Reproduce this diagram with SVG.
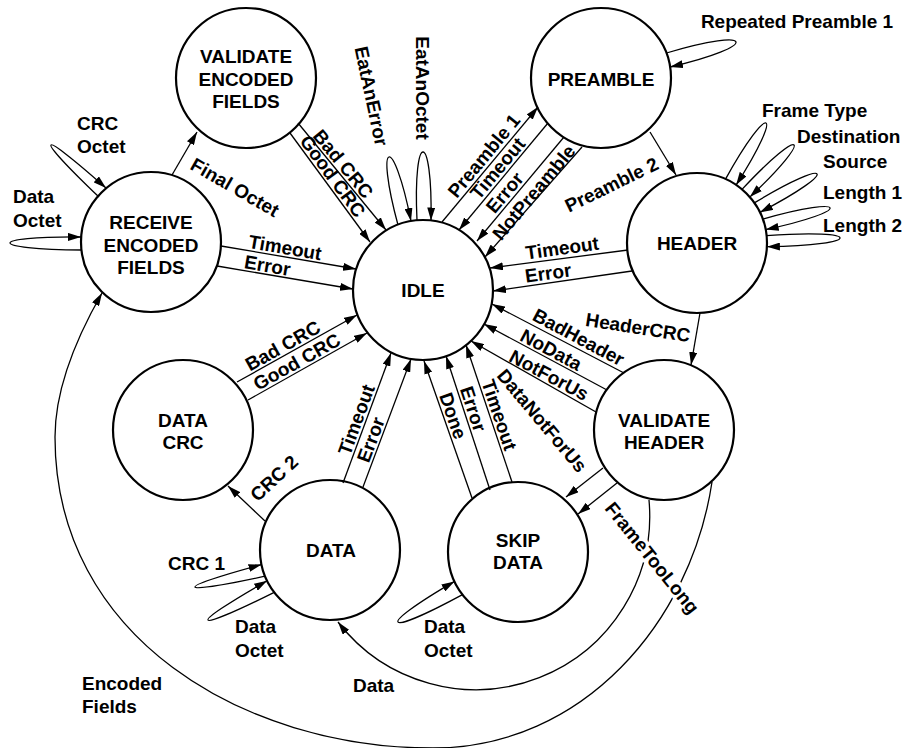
<svg xmlns="http://www.w3.org/2000/svg" width="906" height="748" viewBox="0 0 906 748">
  <defs>
    <marker id="ah" viewBox="0 0 13 8" refX="13" refY="4" markerWidth="13" markerHeight="8" orient="auto" markerUnits="userSpaceOnUse">
      <path d="M0,0 L13,4 L0,8 z" fill="#000"/>
    </marker>
    <style>
      text { font-family: "Liberation Sans", Arial, sans-serif; font-weight: bold; font-size: 19px; fill: #000; }
      .node circle { fill: #fff; stroke: #000; stroke-width: 2.2; }
      .node text, .lbl { text-anchor: middle; }
      .edge { fill: none; stroke: #000; stroke-width: 1.3; marker-end: url(#ah); }
      .halo { stroke: #fff; stroke-width: 7; stroke-linejoin: round; paint-order: stroke; }
    </style>
  </defs>
  <rect width="906" height="748" fill="#fff"/>

  <!-- states -->
  <g id="validate-encoded-fields" class="node">
    <circle cx="246" cy="78" r="70"/>
    <text x="246" y="63">VALIDATE</text>
    <text x="246" y="86">ENCODED</text>
    <text x="246" y="108">FIELDS</text>
  </g>
  <g id="preamble" class="node">
    <circle cx="601" cy="78" r="70"/>
    <text x="601" y="86">PREAMBLE</text>
  </g>
  <g id="receive-encoded-fields" class="node">
    <circle cx="151" cy="242" r="70"/>
    <text x="151" y="229">RECEIVE</text>
    <text x="151" y="252">ENCODED</text>
    <text x="151" y="274">FIELDS</text>
  </g>
  <g id="idle" class="node">
    <circle cx="423" cy="290" r="70"/>
    <text x="423" y="297">IDLE</text>
  </g>
  <g id="header" class="node">
    <circle cx="697" cy="243" r="70"/>
    <text x="697" y="250">HEADER</text>
  </g>
  <g id="validate-header" class="node">
    <circle cx="664" cy="430" r="70"/>
    <text x="664" y="427">VALIDATE</text>
    <text x="664" y="449">HEADER</text>
  </g>
  <g id="data-crc" class="node">
    <circle cx="183" cy="430" r="70"/>
    <text x="183" y="427">DATA</text>
    <text x="183" y="449">CRC</text>
  </g>
  <g id="data" class="node">
    <circle cx="330" cy="550" r="70"/>
    <text x="331" y="557">DATA</text>
  </g>
  <g id="skip-data" class="node">
    <circle cx="518" cy="552" r="70"/>
    <text x="518" y="547">SKIP</text>
    <text x="518" y="569">DATA</text>
  </g>

  <!-- transitions -->
  <g id="connectors">
    <!-- RECEIVE ENCODED FIELDS -->
    <path class="edge" d="M172,175 L197,132"/>
    <path class="edge" d="M221,246 L356,269"/>
    <path class="edge" d="M217,266 L353,289"/>
    <path class="edge" d="M99,197 C31.35,132.35 36.25,126.05 106,188"/>
    <path class="edge" d="M82,250 C-13.3,249.3 -14.3,236.3 81,237"/>
    <!-- VALIDATE ENCODED FIELDS -->
    <path class="edge" d="M298,123 L386,230"/>
    <path class="edge" d="M290,133 L370,242"/>
    <!-- IDLE self loops -->
    <path class="edge" d="M398,225 C374.4,137.9 393.2,132.1 411,221"/>
    <path class="edge" d="M417,220.3 C412.7,129.1 432.7,129.3 431,220.5"/>
    <!-- IDLE / PREAMBLE -->
    <path class="edge" d="M442,222 L538,107"/>
    <path class="edge" d="M548,123 L459,230"/>
    <path class="edge" d="M564,137 L477,241"/>
    <path class="edge" d="M582,147 L485,257"/>
    <path class="edge" d="M666.5,53 C756.1,26.1 761,45.9 670,67"/>
    <path class="edge" d="M650,132 L676,175"/>
    <!-- HEADER -->
    <path class="edge" d="M725.5,179.1 C769.8,98.9 785.6,107.8 736.1,185"/>
    <path class="edge" d="M742,189.4 C804,123 816,134.9 749.8,197.1"/>
    <path class="edge" d="M754.3,202.9 C832.7,155.5 841.3,170.1 759.9,212.3"/>
    <path class="edge" d="M762.8,219.1 C849.7,194.4 854.2,210.7 765.7,229.6"/>
    <path class="edge" d="M766.6,235.7 C864.2,228.4 864.7,245.4 766.9,246.7"/>
    <path class="edge" d="M628,250 L490,268"/>
    <path class="edge" d="M632,271 L493,291"/>
    <path class="edge" d="M700,313 L691,365"/>
    <!-- VALIDATE HEADER -->
    <path class="edge" d="M624,373 L492,304"/>
    <path class="edge" d="M607,390 L484,324"/>
    <path class="edge" d="M596,412 L471,341"/>
    <path class="edge" d="M603,468 L566,497"/>
    <path class="edge" d="M617,483 L578,514"/>
    <path class="edge" d="M649,500 A174,174 0 0 1 338,622"/>
    <path class="edge" d="M712,482 C691,622 583,748 433,748 C243,748 55,637 55,437 C55,387 77,336.7 102,293"/>
    <!-- SKIP DATA -->
    <path class="edge" d="M472,498 L424,361"/>
    <path class="edge" d="M490,490 L446,356"/>
    <path class="edge" d="M512,482 L466,345"/>
    <path class="edge" d="M462.5,594.6 C381,638.6 374.6,628 454.5,581.4"/>
    <!-- DATA -->
    <path class="edge" d="M343,483 L391,353"/>
    <path class="edge" d="M363,487 L411,359"/>
    <path class="edge" d="M265,521 L228,486"/>
    <path class="edge" d="M265.1,576.2 C173.3,596 171.1,589 261.5,564.6"/>
    <path class="edge" d="M274.2,592.3 C189.3,634.6 185,627.7 267.1,580.8"/>
    <!-- DATA CRC -->
    <path class="edge" d="M237,382 L357,315"/>
    <path class="edge" d="M248,400 L367,333"/>

    <!-- transition labels -->
    <text class="lbl" transform="translate(231.6 193) rotate(30)">Final Octet</text>
    <text class="lbl" transform="translate(284 254) rotate(9.7)">Timeout</text>
    <text class="lbl" transform="translate(266.4 272) rotate(9.7)">Error</text>
    <text x="77" y="130">CRC</text>
    <text x="77" y="153">Octet</text>
    <text x="13" y="203">Data</text>
    <text x="13" y="227">Octet</text>
    <text class="lbl" transform="translate(338.2 168) rotate(50.6)">Bad CRC</text>
    <text class="lbl" transform="translate(327.5 180) rotate(53.7)">Good CRC</text>
    <text class="lbl" transform="translate(365 97.5) rotate(78)">EatAnError</text>
    <text class="lbl" transform="translate(416 88) rotate(90)">EatAnOctet</text>
    <text class="lbl" transform="translate(489 160) rotate(-50.4)">Preamble 1</text>
    <text class="lbl" transform="translate(502.7 172.6) rotate(-50)">Timeout</text>
    <text class="lbl" transform="translate(509.8 196.8) rotate(-50)">Error</text>
    <text class="lbl" transform="translate(538.9 196.5) rotate(-50)">NotPreamble</text>
    <text class="lbl" x="797" y="28">Repeated Preamble 1</text>
    <text class="lbl" transform="translate(614.5 190.6) rotate(-26)">Preamble 2</text>
    <text x="762" y="117">Frame Type</text>
    <text x="797" y="142.5">Destination</text>
    <text x="823" y="168">Source</text>
    <text x="823" y="198.5">Length 1</text>
    <text x="823" y="232">Length 2</text>
    <text class="lbl" transform="translate(563 254.5) rotate(-8)">Timeout</text>
    <text class="lbl" transform="translate(549 279.5) rotate(-8)">Error</text>
    <text class="lbl" transform="translate(637 334) rotate(9)">HeaderCRC</text>
    <text class="lbl" transform="translate(575.5 343) rotate(28)">BadHeader</text>
    <text class="lbl" transform="translate(548 355.5) rotate(28)">NoData</text>
    <text class="lbl" transform="translate(546 381) rotate(28)">NotForUs</text>
    <text class="lbl" transform="translate(537 425) rotate(50)">DataNotForUs</text>
    <text class="lbl halo" transform="translate(647 562) rotate(51)">FrameTooLong</text>
    <text class="lbl" transform="translate(446.8 418) rotate(70.6)">Done</text>
    <text class="lbl" transform="translate(467 411) rotate(71.8)">Error</text>
    <text class="lbl" transform="translate(493 417) rotate(71.3)">Timeout</text>
    <text class="lbl" transform="translate(362.5 422) rotate(-70)">Timeout</text>
    <text class="lbl" transform="translate(377 442) rotate(-69.4)">Error</text>
    <text class="lbl" transform="translate(278.6 483) rotate(-43)">CRC 2</text>
    <text class="lbl" transform="translate(286 351.5) rotate(-29.2)">Bad CRC</text>
    <text class="lbl" transform="translate(300 367.5) rotate(-29.2)">Good CRC</text>
    <text x="168" y="570">CRC 1</text>
    <text x="235" y="633">Data</text>
    <text x="235" y="657">Octet</text>
    <text x="424" y="633">Data</text>
    <text x="424" y="657">Octet</text>
    <text x="353" y="692">Data</text>
    <text x="82" y="690">Encoded</text>
    <text x="82" y="713">Fields</text>
  </g>
</svg>
